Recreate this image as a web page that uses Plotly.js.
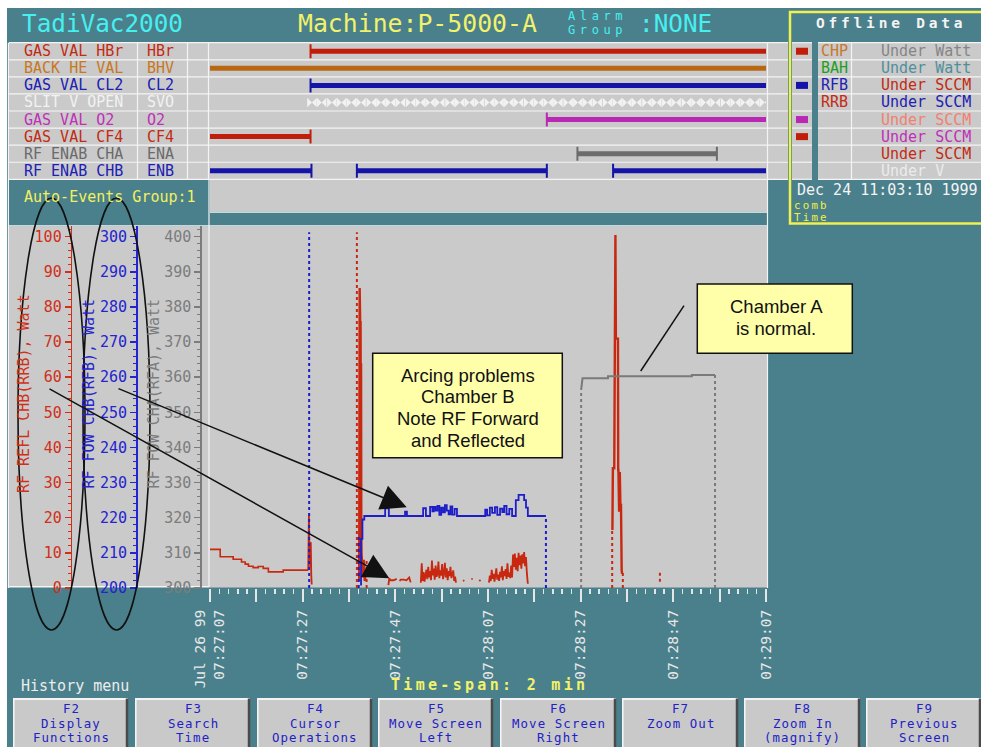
<!DOCTYPE html>
<html>
<head>
<meta charset="utf-8">
<script src="https://cdn.plot.ly/plotly-3.0.1.min.js"></script>
<style>
  html, body { margin: 0; padding: 0; background: #ffffff; }
  #chart { width: 981px; height: 747px; }
</style>
</head>
<body>
<div id="chart"></div>
<script>
// ---------- time axis: seconds after Jul 26 1999 07:27:07 ----------
const tickSec  = [0, 10, 20, 30, 40, 50, 60, 70, 80, 90, 100, 110, 120];
const tickText = ['Jul 26 99<br>07:27:07', '', '07:27:27', '', '07:27:47', '', '07:28:07', '',
                  '07:28:27', '', '07:28:47', '', '07:29:07'];

// ---------- digital signals (on intervals, seconds) ----------
const sigNames  = ['GAS VAL HBr', 'BACK HE VAL', 'GAS VAL CL2', 'SLIT V OPEN', 'GAS VAL O2', 'GAS VAL CF4', 'RF ENAB CHA', 'RF ENAB CHB'];
const sigTags   = ['HBr', 'BHV', 'CL2', 'SVO', 'O2', 'CF4', 'ENA', 'ENB'];
const sigText   = ['#c42a12', '#c8781e', '#2020b4', '#f2f2f2', '#c030b8', '#c42a12', '#6a6a6a', '#2020b4'];
const sigColors = ['#c01e0a', '#b86814', '#1414a8', '#f2f2f2', '#b828b4', '#c01e0a', '#6c6c6c', '#1414a8'];
const sigOn = [
  [[21.7, 120]],
  [[0, 120]],
  [[21.7, 120]],
  [],
  [[72.7, 120]],
  [[0, 21.7]],
  [[79.3, 109.4]],
  [[0, 21.9], [31.7, 72.7], [87.0, 120]]
];
// slit valve toggles
const svoPulses = [22.0, 24.1, 26.3, 28.4, 30.5, 32.6, 34.8, 36.9, 39.0, 41.1, 43.3, 45.4, 47.5, 49.6,
  51.8, 53.9, 56.0, 58.1, 60.3, 62.4, 64.5, 66.6, 68.8, 70.9, 73.0, 75.1, 77.3, 79.4, 81.5, 83.6,
  85.8, 87.9, 90.0, 92.1, 94.3, 96.4, 98.5, 100.6, 102.8, 104.9, 107.0, 109.1, 111.3, 113.4, 115.5,
  117.6, 119.7];

// ---------- offline data panel ----------
const offTags       = ['CHP', 'BAH', 'RFB', 'RRB', '', '', '', ''];
const offTagColors  = ['#c8782a', '#1ea01e', '#2020b4', '#c42a12', '', '', '', ''];
const offUnits      = ['Under Watt', 'Under Watt', 'Under SCCM', 'Under SCCM', 'Under SCCM', 'Under SCCM', 'Under SCCM', 'Under V'];
const offUnitColors = ['#858585', '#4f8f9a', '#c42a12', '#2020b4', '#f28070', '#c030b8', '#c42a12', '#ececec'];
const offFlags      = ['#c01e0a', null, '#1414a8', null, '#b828b4', '#c01e0a', null, null];

// ---------- RF reflected power, chamber B (RRB, W) ----------
const rrbIdleT = [0, 2.2, 5.0, 6.8, 7.6, 8.3, 9.3, 10.4, 11.5, 12.6, 15.8, 21.2];
const rrbIdleW = [11.0, 8.9, 8.2, 7.4, 6.8, 6.2, 5.8, 6.1, 5.6, 4.6, 5.1, 5.1];
const rrbKickT = [21.2, 21.35, 21.45, 21.55, 21.65, 21.75, 21.85, 21.95];
const rrbKickW = [5.1, 21.3, 8.0, 13.2, 6.0, 13.0, 4.0, 1.0];
const rrbStrikeT = [32.2, 32.3, 32.35, 32.4, 32.45, 32.5, 32.55, 32.6, 32.65, 32.7, 32.8, 33.0, 33.2, 33.4, 33.6];
const rrbStrikeW = [2, 85.4, 64, 77, 64, 76, 30, 64, 18, 10, 6, 3, 8, 2, 4];
const rrbArcT = [38.5, 38.7, 38.9, 39.6, 40.3, null, 40.9, 41.2, 41.8, 42.4, 43.0, 43.3, null,
  45.5, 45.7, 45.9, 46.1, 46.3, 46.5, 46.7, 46.9, 47.1, 47.3, 47.5, 47.7, 47.9, 48.1, 48.3, 48.5,
  48.7, 48.9, 49.1, 49.3, 49.5, 49.7, 49.9, 50.1, 50.3, 50.5, 50.7, 50.9, 51.1, 51.3, 51.5, 51.7,
  51.9, 52.1, 52.3, 52.5, 52.7, 52.9, 53.1, null,
  54.6, 54.9, null, 56.4, 56.7, null, 58.1, 58.4, null,
  60.2, 60.4, 60.6, 60.8, 61.0, 61.2, 61.4, 61.6, 61.8, 62.0, 62.2, 62.4, 62.6, 62.8, 63.0, 63.2,
  63.4, 63.6, 63.8, 64.0, 64.2, 64.4, 64.6, 64.8, 65.0, 65.2, 65.4, 65.6, 65.8, 66.0, 66.2, 66.4,
  66.6, 66.8, 67.0, 67.2, 67.4, 67.6, 67.8, 68.0, 68.2, 68.4, 68.6];
const rrbArcW = [0.8, 2.8, 2.2, 2.2, 2.6, null, 2.0, 2.4, 2.4, 2.2, 3.0, 1.6, null,
  1.5, 7.0, 2.0, 4.5, 1.8, 3.5, 5.2, 2.5, 6.0, 3.0, 4.8, 2.2, 7.8, 3.6, 5.5, 2.4,
  6.4, 3.2, 4.0, 7.5, 2.8, 5.0, 3.5, 6.8, 2.5, 4.2, 7.2, 3.0, 5.6, 2.2, 4.8, 3.4,
  6.0, 2.8, 3.8, 5.0, 2.0, 3.2, 1.5, null,
  2.2, 2.0, null, 2.6, 2.6, null, 2.3, 2.0, null,
  1.5, 3.5, 2.0, 5.2, 2.6, 4.0, 1.8, 3.2, 5.6, 2.4, 3.8, 2.0, 4.6, 3.0, 6.2, 2.2,
  4.8, 3.4, 5.4, 2.6, 7.0, 3.2, 4.4, 2.8, 6.4, 3.0, 9.5, 6.0, 9.8, 5.2, 8.6, 4.8,
  10.0, 6.5, 9.2, 5.5, 9.6, 7.0, 10.2, 6.2, 8.8, 4.0, 1.2];
const rrbSpikeT = [86.85, 86.95, 87.25, 87.3, 87.4, 87.45, 87.5, 87.6, 88.05, 88.1, 88.15, 88.3, 88.45, 88.6, 88.7, 88.85, 88.95];
const rrbSpikeW = [16.5, 34.1, 34.1, 71, 100.5, 71, 100.5, 71, 71, 33.6, 33.6, 21.7, 33, 21.7, 24, 5.1, 4.0];
// out-of-range markers (time, low, high)
const rrbGapT  = [31.7, 33.8, 86.8, 89.1, 97.1];
const rrbGapLo = [0, 0, 0, 0, 1.8];
const rrbGapHi = [101.3, 8.5, 16.5, 5.1, 4.6];

// ---------- RF forward power, chamber B (RFB, W) ----------
const rfbT = [32.4, 32.6, 32.9, 33.3, 37.8, 38.6, 42.1, 42.5, 46.0, 46.6, 47.5, 48.0, 48.3, 48.7, 49.1,
  49.5, 49.9, 50.3, 50.7, 51.1, 51.5, 51.9, 52.3, 52.8, 53.3, 59.4, 59.8, 60.4, 60.9, 61.5, 62.0, 62.6,
  63.1, 63.5, 64.0, 64.6, 65.2, 66.0, 66.6, 67.8, 68.2, 68.6, 72.5];
const rfbW = [201.0, 214.0, 219.5, 220.5, 222.7, 220.5, 221.7, 220.5, 222.7, 220.5, 223.1, 221.8, 223.1,
  222.0, 223.4, 220.8, 222.9, 221.5, 223.6, 222.0, 221.0, 223.2, 220.9, 222.5, 220.5, 222.3, 220.7,
  222.9, 221.4, 223.0, 220.8, 222.6, 221.6, 223.4, 221.0, 222.5, 220.5, 225.0, 226.5, 225.0, 222.9,
  220.5, 220.5];
const rfbGapT  = [21.4, 32.1, 72.5];
const rfbGapLo = [200, 200, 200];
const rfbGapHi = [301.3, 215, 220.5];

// ---------- RF forward power, chamber A (RFA, W) ----------
const rfaT = [80.1, 80.4, 85.9, 85.9, 104.0, 104.0, 109.0];
const rfaW = [356.4, 359.7, 359.7, 360.3, 360.3, 360.6, 360.6];
const rfaGapT  = [80.1, 109.0];
const rfaGapLo = [300, 300];
const rfaGapHi = [356.4, 360.6];

// ---------- function keys ----------
const keyNames = ['F2', 'F3', 'F4', 'F5', 'F6', 'F7', 'F8', 'F9'];
const keyLine1 = ['Display', 'Search', 'Cursor', 'Move Screen', 'Move Screen', 'Zoom Out', 'Zoom In', 'Previous'];
const keyLine2 = ['Functions', 'Time', 'Operations', 'Left', 'Right', '', '(magnify)', 'Screen'];

// ================= drawing =================
const W = 981, H = 747;
const fx = x => x / W;          // screen column -> paper fraction
const fy = y => 1 - y / H;      // screen row -> paper fraction

const TEAL = '#4a808b', PANEL = '#cacaca', LINE = '#f4f4f4';
const MONO = 'DejaVu Sans Mono, Liberation Mono, monospace';
const SANS = 'Liberation Sans, Arial, sans-serif';
const RED = '#c82810', BLUE = '#1e1ec8', GREY = '#7a7a7a';
const RED_AX = '#d03018', BLUE_AX = '#2424d0', GREY_AX = '#7c7c7c';

const shapes = [];
const annotations = [];
function rect(x0, y0, x1, y1, fill, lineColor, lineWidth, layer) {
  shapes.push({type: 'rect', xref: 'paper', yref: 'paper', x0: fx(x0), x1: fx(x1), y0: fy(y1), y1: fy(y0),
    fillcolor: fill || 'rgba(0,0,0,0)', line: {color: lineColor || 'rgba(0,0,0,0)', width: lineWidth || 0},
    layer: layer || 'below'});
}
function seg(x0, y0, x1, y1, color, width, layer) {
  shapes.push({type: 'line', xref: 'paper', yref: 'paper', x0: fx(x0), y0: fy(y0), x1: fx(x1), y1: fy(y1),
    line: {color: color, width: width}, layer: layer || 'below'});
}
function label(x, y, text, color, size, extra) {
  annotations.push(Object.assign({xref: 'paper', yref: 'paper', x: fx(x), y: fy(y), text: text,
    showarrow: false, xanchor: 'left', yanchor: 'middle', borderpad: 0,
    font: {family: MONO, size: size, color: color}}, extra || {}));
}
const spaced = (t, px) => '<span style="letter-spacing:' + px + 'px">' + t + '</span>';

// screen background
rect(7, 8, 990, 760, TEAL);

// signal rows
const ROW_TOP = 42.7, ROW_H = 17.075, ROW_BOT = ROW_TOP + 8 * ROW_H;
rect(9, ROW_TOP, 788, ROW_BOT, PANEL);
rect(792, ROW_TOP, 812, ROW_BOT, PANEL);
rect(818, ROW_TOP, 990, ROW_BOT, PANEL);
for (let k = 0; k <= 8; k++) {
  const y = ROW_TOP + k * ROW_H;
  seg(9, y, 788, y, LINE, 1.2);
  seg(792, y, 812, y, LINE, 1.2);
  seg(818, y, 990, y, LINE, 1.2);
}
[137.5, 187.5, 208.5, 767.5].forEach(x => seg(x, ROW_TOP, x, ROW_BOT, LINE, 1.2));
seg(851.5, ROW_TOP, 851.5, ROW_BOT, LINE, 1.2);
offFlags.forEach((c, i) => {
  if (c) { const yc = ROW_TOP + (i + 0.5) * ROW_H; rect(796, yc - 3.5, 808, yc + 3.5, c); }
});

// event strip and plot panel
rect(210, ROW_BOT + 0.7, 767, 211.5, PANEL);
seg(210, 212.2, 767, 212.2, LINE, 1.2);
rect(9, 226.5, 767, 587.5, PANEL);
seg(9, 225.9, 767.5, 225.9, LINE, 1.2);
seg(8.4, ROW_TOP, 8.4, 588, LINE, 1.2);
seg(209, ROW_BOT, 209, 587, LINE, 1.2);
seg(767.5, ROW_BOT, 767.5, 588, LINE, 1.2);
seg(9, 586.6, 209, 586.6, LINE, 1.2);

// offline data frame
rect(790, 12, 995, 223.6, null, '#f0f050', 2.5);

// function keys
const keyX0 = [13, 135, 257, 378, 500, 622, 744, 866];
const keyX1 = [128, 250, 372, 493, 616, 738, 860, 981];
keyNames.forEach((k, i) => {
  rect(keyX0[i], 698.5, keyX1[i], 760, '#c9c9c9');
  seg(keyX0[i], 699, keyX1[i], 699, '#f4f4f4', 2);
  seg(keyX0[i] + 0.8, 698.5, keyX0[i] + 0.8, 760, '#f4f4f4', 1.6);
  seg(keyX1[i] - 1, 698.5, keyX1[i] - 1, 760, '#4a4a4a', 2.5);
  const xc = (keyX0[i] + keyX1[i]) / 2 + 0.5;
  const opts = {xanchor: 'center'};
  label(xc, 708.5, spaced(k, 1.1), '#2222c4', 12.4, opts);
  label(xc, 723, spaced(keyLine1[i], 1.1), '#2222c4', 12.4, opts);
  if (keyLine2[i]) label(xc, 737.5, spaced(keyLine2[i], 1.1), '#2222c4', 12.4, opts);
});

// header texts
label(21, 23.5, 'TadiVac2000', '#46f0f0', 24.3);
label(297, 23.5, 'Machine:P-5000-A', '#f2f26a', 24.8);
label(567, 16.3, spaced('Alarm', 4.6), '#46f0f0', 12);
label(567, 30.3, spaced('Group', 4.6), '#46f0f0', 12);
label(638, 23.5, ':NONE', '#46f0f0', 24.3);
label(815, 23, spaced('Offline Data', 3.8), '#f4f4f4', 14.5,
  {font: {family: MONO, size: 14.5, color: '#f4f4f4', weight: 'bold'}});

sigNames.forEach((n, i) => {
  const yc = ROW_TOP + (i + 0.5) * ROW_H;
  label(22.5, yc, n, sigText[i], 15);
  label(145.5, yc, sigTags[i], sigText[i], 15);
  if (offTags[i]) label(820, yc, offTags[i], offTagColors[i], 15);
  label(880, yc, offUnits[i], offUnitColors[i], 15);
});

label(22.5, 197, 'Auto-Events Group:1', '#f0f060', 15);
label(796, 190, 'Dec 24 11:03:10 1999', '#f4f4f4', 15);
label(792.5, 205.3, spaced('comb', 2.2), '#f0f040', 10.8);
label(792.5, 217.7, spaced('Time', 2.2), '#f0f040', 10.8);
label(19.5, 686, 'History menu', '#ececec', 15);
label(389.5, 685, spaced('Time-span: 2 min', 3.3), '#f2f26a', 15,
  {font: {family: MONO, size: 15, color: '#f2f26a', weight: 'bold'}});

// vertical axis titles
label(23.5, 393.5, 'RF REFL CHB(RRB), Watt', RED_AX, 15, {xanchor: 'center', textangle: -90});
label(88, 393.5, 'RF FOW CHB(RFB), Watt', BLUE_AX, 15, {xanchor: 'center', textangle: -90});
label(153, 393.5, 'RF FOW CHA(RFA), Watt', GREY_AX, 15, {xanchor: 'center', textangle: -90});

// callouts
rect(372.7, 353.3, 562.3, 457.7, '#ffffaa', '#111111', 1.5, 'above');
['Arcing problems', 'Chamber B', 'Note RF Forward', 'and Reflected'].forEach((t, i) => {
  annotations.push({xref: 'paper', yref: 'paper', x: fx(467.5), y: fy(375 + i * 21.7), text: t, showarrow: false,
    xanchor: 'center', yanchor: 'middle', borderpad: 0, font: {family: SANS, size: 18.5, color: '#111111'}});
});
rect(697.3, 284, 852.3, 353.3, '#ffffaa', '#111111', 1.5, 'above');
['Chamber A', 'is normal.'].forEach((t, i) => {
  annotations.push({xref: 'paper', yref: 'paper', x: fx(776), y: fy(306 + i * 22.3), text: t, showarrow: false,
    xanchor: 'center', yanchor: 'middle', borderpad: 0, font: {family: SANS, size: 18.5, color: '#111111'}});
});
seg(640.7, 371, 684, 305.7, '#111111', 1.5, 'above');
shapes.push({type: 'circle', xref: 'paper', yref: 'paper', x0: fx(18), x1: fx(85), y0: fy(630), y1: fy(198),
  line: {color: '#111111', width: 1.6}, layer: 'above'});
shapes.push({type: 'circle', xref: 'paper', yref: 'paper', x0: fx(83), x1: fx(150), y0: fy(630), y1: fy(198),
  line: {color: '#111111', width: 1.6}, layer: 'above'});
[[389.3, 578.3, 48, 388], [406.7, 507.3, 117, 388]].forEach(([tx, ty, sx, sy]) => {
  annotations.push({xref: 'paper', yref: 'paper', x: fx(tx), y: fy(ty), ax: sx - tx, ay: sy - ty, text: '',
    showarrow: true, arrowhead: 2, arrowsize: 3.4, arrowwidth: 1.5, arrowcolor: '#111111', standoff: 0});
});

// ---------- traces ----------
const traces = [];
sigOn.forEach((ivals, i) => {
  const xs = [], ys = [], mx = [], my = [];
  ivals.forEach(([a, b]) => {
    xs.push(a, b, null); ys.push(i, i, null);
    [a, b].forEach(t => { if (t > 0.05 && t < 119.95) { mx.push(t); my.push(i); } });
  });
  if (xs.length) traces.push({type: 'scatter', mode: 'lines', x: xs, y: ys, xaxis: 'x2', yaxis: 'y4',
    line: {color: sigColors[i], width: 5}, hoverinfo: 'skip'});
  if (mx.length) traces.push({type: 'scatter', mode: 'markers', x: mx, y: my, xaxis: 'x2', yaxis: 'y4',
    marker: {symbol: 'line-ns', size: 10, line: {width: 2, color: sigColors[i]}}, hoverinfo: 'skip'});
});
traces.push({type: 'scatter', mode: 'markers', x: svoPulses, y: svoPulses.map(() => 3), xaxis: 'x2', yaxis: 'y4',
  marker: {symbol: 'bowtie', size: 9.5, color: sigColors[3], line: {width: 0}}, hoverinfo: 'skip'});

function vlines(ts, lo, hi) {
  const x = [], y = [];
  ts.forEach((t, i) => { x.push(t, t, null); y.push(lo[i], hi[i], null); });
  return {x, y};
}
const dotted = (d, color, ax) => ({type: 'scatter', mode: 'lines', x: d.x, y: d.y, yaxis: ax,
  line: {color: color, width: 2, dash: 'dot'}, hoverinfo: 'skip'});

traces.push(dotted(vlines(rfbGapT, rfbGapLo, rfbGapHi), BLUE, 'y2'));
traces.push(dotted(vlines(rfaGapT, rfaGapLo, rfaGapHi), GREY, 'y3'));
traces.push(dotted(vlines(rrbGapT, rrbGapLo, rrbGapHi), RED, 'y'));

traces.push({type: 'scatter', mode: 'lines', x: rfaT, y: rfaW, yaxis: 'y3', line: {color: GREY, width: 2}});
traces.push({type: 'scatter', mode: 'lines', x: rfbT, y: rfbW, yaxis: 'y2', line: {color: BLUE, width: 1.8, shape: 'hv'}});
traces.push({type: 'scatter', mode: 'lines', x: rrbIdleT, y: rrbIdleW, yaxis: 'y', line: {color: RED, width: 1.6, shape: 'hv'}});
traces.push({type: 'scatter', mode: 'lines', x: rrbKickT, y: rrbKickW, yaxis: 'y', line: {color: RED, width: 1.8}});
traces.push({type: 'scatter', mode: 'lines', x: rrbStrikeT, y: rrbStrikeW, yaxis: 'y', line: {color: RED, width: 2.4}});
traces.push({type: 'scatter', mode: 'lines', x: rrbArcT, y: rrbArcW, yaxis: 'y', line: {color: RED, width: 1.8}, connectgaps: false});
traces.push({type: 'scatter', mode: 'lines', x: rrbSpikeT, y: rrbSpikeW, yaxis: 'y', line: {color: RED, width: 2.4}});

// ---------- axes ----------
const xDom = [fx(210), fx(766)];
const yDom = [fy(588), fy(226)];
function powerAxis(color, lo, pos, extra) {
  return Object.assign({domain: yDom, range: [lo, lo + 103.05], anchor: 'free', position: pos, side: 'left',
    showline: true, linecolor: color, linewidth: 1.6, ticks: 'outside', ticklen: 6, tickwidth: 1.5, tickcolor: color,
    dtick: 10, tick0: lo, tickfont: {family: MONO, size: 15, color: color}, ticklabelstandoff: 0,
    minor: {ticks: 'outside', ticklen: 3, tickwidth: 1, tickcolor: color, dtick: 2, tick0: lo},
    showgrid: false, zeroline: false, fixedrange: true, automargin: false}, extra || {});
}

const layout = {
  width: W, height: H, margin: {l: 0, r: 0, t: 0, b: 0},
  paper_bgcolor: '#ffffff', plot_bgcolor: 'rgba(0,0,0,0)', showlegend: false,
  xaxis: {domain: xDom, range: [0, 120], anchor: 'y', tickmode: 'array', tickvals: tickSec, ticktext: tickText,
    ticks: 'outside', ticklen: 13, tickwidth: 2, tickcolor: '#e6e6e6', tickangle: -90,
    tickfont: {family: MONO, size: 14.5, color: '#e8e8e8'}, ticklabelstandoff: 2,
    minor: {tickmode: 'linear', tick0: 0, dtick: 2, ticks: 'outside', ticklen: 5, tickwidth: 1.5, tickcolor: '#e6e6e6'},
    showgrid: false, zeroline: false, showline: false, fixedrange: true, automargin: false},
  yaxis: powerAxis(RED_AX, 0, fx(70.7)),
  yaxis2: powerAxis(BLUE_AX, 200, fx(136), {overlaying: 'y'}),
  yaxis3: powerAxis(GREY_AX, 300, fx(200.3), {overlaying: 'y'}),
  xaxis2: {domain: xDom, range: [0, 120], anchor: 'y4', visible: false, fixedrange: true},
  yaxis4: {domain: [fy(ROW_BOT), fy(ROW_TOP)], range: [7.5, -0.5], anchor: 'x2', visible: false, fixedrange: true},
  shapes: shapes,
  annotations: annotations
};

Plotly.newPlot('chart', traces, layout, {staticPlot: true, displayModeBar: false});
</script>
</body>
</html>
